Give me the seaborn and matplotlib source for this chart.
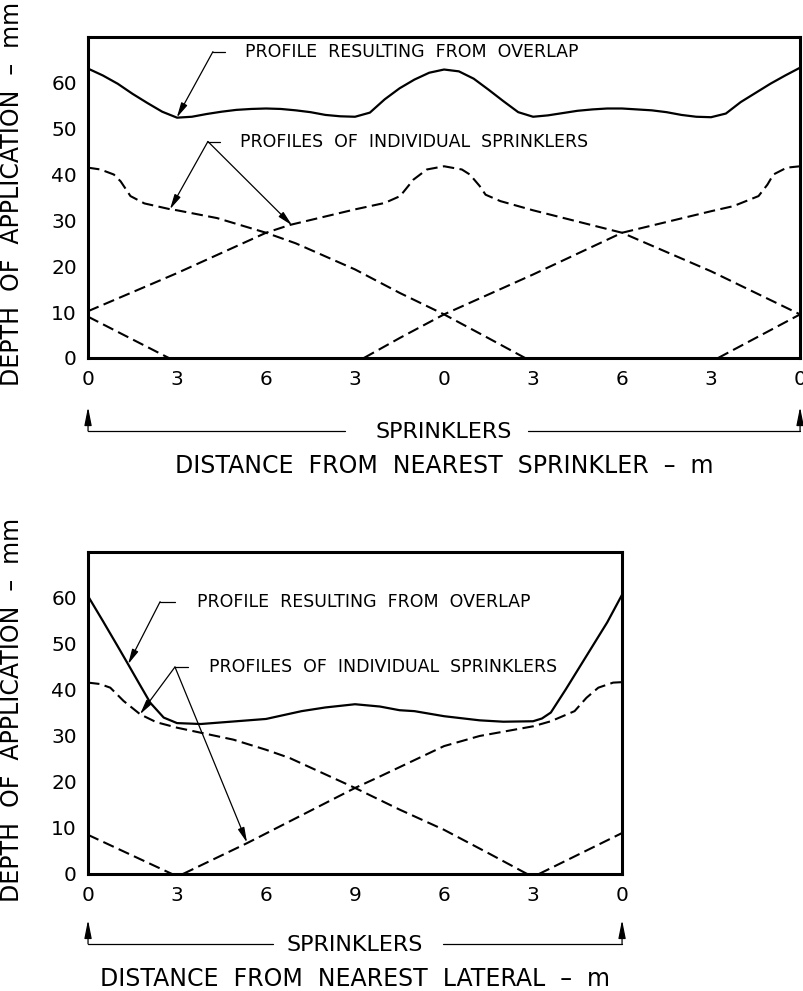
import matplotlib
matplotlib.use('Agg')
import matplotlib.pyplot as plt
import seaborn as sns

# ---- upper chart: along the lateral, sprinklers at 0, 12 and 24 m ----
top_ticks = [0, 3, 6, 9, 12, 15, 18, 21, 24]
top_tick_labels = ['0', '3', '6', '3', '0', '3', '6', '3', '0']

top_overlap_x = [0, 0.5, 1, 1.5, 2, 2.5, 3, 3.5, 4, 4.5, 5, 5.5, 6, 6.5, 7, 7.5, 8, 8.5, 9,
                 9.5, 10, 10.5, 11, 11.5, 12, 12.5, 13, 13.5, 14, 14.5, 15, 15.5, 16, 16.5,
                 17, 17.5, 18, 18.5, 19, 19.5, 20, 20.5, 21, 21.5, 22, 22.5, 23, 23.5, 24]
top_overlap = [63.1, 61.6, 59.8, 57.6, 55.6, 53.7, 52.4, 52.6, 53.2, 53.7, 54.1, 54.3, 54.4, 54.3,
               54.0, 53.6, 53.0, 52.7, 52.6, 53.5, 56.4, 58.8, 60.7, 62.2, 62.9, 62.5, 60.9,
               58.5, 56.0, 53.6, 52.6, 52.9, 53.4, 53.9, 54.2, 54.4, 54.4, 54.2, 54.0, 53.6,
               53.0, 52.6, 52.5, 53.3, 55.8, 57.8, 59.8, 61.6, 63.3]

# individual sprinkler profiles (one list per sprinkler position)
top_s_m12_x = [0, 2.72]
top_s_m12 = [9.0, 0]

top_s0_x = [0, 0.42, 0.87, 1.1, 1.43, 1.9, 2.72, 3, 4.35, 6, 7, 9, 10.5, 12, 13.5, 14.73]
top_s0 = [41.5, 41.1, 40.0, 38.5, 35.3, 33.7, 32.5, 32.2, 30.5, 27.3, 25.0, 19.3, 14.2, 9.5, 4.3, 0]

top_s12_x = [0, 3, 6, 6.8, 9, 10, 10.52, 10.97, 11.42, 12, 12.6, 12.87, 13.2, 13.4, 13.9,
             15, 18, 21, 24]
top_s12 = [10.2, 18.5, 27.3, 29.0, 32.4, 33.8, 35.3, 38.9, 41.1, 41.8, 41.1, 40.0, 37.5, 35.6,
           34.2, 32.2, 27.3, 18.9, 9.5]

top_s24_x = [9.3, 10.52, 12, 15, 18, 21, 21.75, 22.6, 22.9, 23.1, 23.55, 24]
top_s24 = [0, 4.4, 9.5, 18.2, 27.3, 32.0, 33.1, 35.3, 37.8, 40.0, 41.5, 41.8]

top_s36_x = [21.24, 24]
top_s36 = [0, 9.5]

# ---- lower chart: across laterals, laterals at 0 and 18 m ----
bot_ticks = [0, 3, 6, 9, 12, 15, 18]
bot_tick_labels = ['0', '3', '6', '9', '6', '3', '0']

bot_overlap_x = [0, 0.5, 1, 1.35, 1.75, 2.1, 2.55, 3, 3.8, 5, 6, 7.2, 8, 9, 9.84, 10.5, 11,
                 12, 13.2, 14, 15, 15.3, 15.6, 16.1, 16.8, 17.5, 18]
bot_overlap = [60.4, 55.0, 49.5, 45.6, 41.1, 37.2, 34.0, 32.8, 32.6, 33.2, 33.7, 35.4, 36.2,
               36.9, 36.4, 35.6, 35.4, 34.3, 33.4, 33.1, 33.2, 33.8, 35.1, 40.1, 47.4, 54.7, 60.7]

bot_s_m12_x = [0, 2.83]
bot_s_m12 = [8.5, 0]

bot_s0_x = [0, 0.4, 0.75, 1.2, 1.76, 2.3, 3, 4.9, 6, 6.8, 9, 10.5, 12, 13.5, 14.8]
bot_s0 = [41.6, 41.3, 40.5, 37.6, 34.7, 33.0, 31.8, 29.2, 27.0, 25.2, 18.7, 14.0, 9.6, 4.5, 0]

bot_s18_x = [3.2, 5.36, 9, 9.84, 12, 13.2, 15, 15.6, 16.4, 16.8, 17.2, 17.7, 18]
bot_s18 = [0, 6.7, 18.7, 21.2, 27.8, 30.0, 32.1, 33.2, 35.4, 38.3, 40.5, 41.6, 41.7]

bot_s30_x = [15.2, 18]
bot_s30 = [0, 8.9]

y_ticks = [0, 10, 20, 30, 40, 50, 60]

sns.set_style('white')
plt.rcParams['font.family'] = ['DejaVu Sans']
plt.rcParams['text.color'] = 'black'
plt.rcParams['axes.labelcolor'] = 'black'
plt.rcParams['xtick.color'] = 'black'
plt.rcParams['ytick.color'] = 'black'

fig = plt.figure(figsize=(8.04, 9.91), dpi=100)
ax1 = fig.add_axes([0.1095, 0.6388, 0.8856, 0.3239])
ax2 = fig.add_axes([0.1095, 0.1181, 0.6642, 0.3249])

dash = (0, (5.5, 2.6))
arrow_kw = dict(arrowstyle='-|>,head_length=0.9,head_width=0.2', color='black', lw=0.9,
                shrinkA=0, shrinkB=0, mutation_scale=10)


def style_axes(ax, xmax, ticks, labels, xlabel):
    ax.set_xlim(0, xmax)
    ax.set_ylim(0, 70)
    ax.set_xticks(ticks)
    ax.set_xticklabels(labels)
    ax.set_yticks(y_ticks)
    ax.tick_params(direction='in', length=11, width=1, labelsize=14.5, color='black',
                   labelcolor='black', top=False, right=False)
    ax.tick_params(axis='x', pad=9)
    ax.tick_params(axis='y', pad=8)
    for sp in ax.spines.values():
        sp.set_visible(True)
        sp.set_linewidth(2.2)
        sp.set_color('black')
    ax.set_ylabel('DEPTH  OF  APPLICATION  \u2013  mm', fontsize=17, color='black')
    ax.set_xlabel(xlabel, fontsize=17, va='top', color='black')


def bracket(ax, y_line, y_tip, gap_l, gap_r):
    tr = ax.transAxes
    ax.plot([0, gap_l], [y_line, y_line], transform=tr, color='black', lw=0.9, clip_on=False)
    ax.plot([gap_r, 1], [y_line, y_line], transform=tr, color='black', lw=0.9, clip_on=False)
    for xe in (0, 1):
        ax.annotate('', xy=(xe, y_tip), xytext=(xe, y_line), xycoords='axes fraction',
                    textcoords='axes fraction',
                    arrowprops=dict(arrowstyle='-|>,head_length=1.1,head_width=0.22',
                                    color='black', lw=0.9, shrinkA=0, shrinkB=0,
                                    mutation_scale=10))
    ax.text(0.5, y_line - 0.003, 'SPRINKLERS', transform=tr, ha='center', va='center',
            fontsize=16, color='black')


def leader(ax, text, x0, x1, y, tips):
    ax.plot([x0, x1], [y, y], color='black', lw=0.9)
    ax.text(x1 + 0.67 * (x1 - x0) + 0.4, y, text, ha='left', va='center', fontsize=12.5,
            color='black')
    for tx, ty in tips:
        ax.annotate('', xy=(tx, ty), xytext=(x0, y), arrowprops=arrow_kw)


# upper chart
sns.lineplot(x=top_overlap_x, y=top_overlap, ax=ax1, color='black', lw=1.6, sort=False)
for xs, ys in [(top_s_m12_x, top_s_m12), (top_s0_x, top_s0), (top_s12_x, top_s12),
               (top_s24_x, top_s24), (top_s36_x, top_s36)]:
    sns.lineplot(x=xs, y=ys, ax=ax1, color='black', lw=1.5, linestyle=dash, sort=False)
style_axes(ax1, 24, top_ticks, top_tick_labels, 'DISTANCE  FROM  NEAREST  SPRINKLER  \u2013  m')
ax1.yaxis.set_label_coords(-0.09, 0.51)
ax1.xaxis.set_label_coords(0.5, -0.30)
leader(ax1, 'PROFILE  RESULTING  FROM  OVERLAP', 4.21, 4.62, 66.8, [(2.99, 52.4)])
leader(ax1, 'PROFILES  OF  INDIVIDUAL  SPRINKLERS', 4.04, 4.45, 47.2,
       [(2.76, 32.4), (6.88, 28.9)])
bracket(ax1, -0.2274, -0.153, 0.361, 0.618)

# lower chart
sns.lineplot(x=bot_overlap_x, y=bot_overlap, ax=ax2, color='black', lw=1.6, sort=False)
for xs, ys in [(bot_s_m12_x, bot_s_m12), (bot_s0_x, bot_s0), (bot_s18_x, bot_s18),
               (bot_s30_x, bot_s30)]:
    sns.lineplot(x=xs, y=ys, ax=ax2, color='black', lw=1.5, linestyle=dash, sort=False)
style_axes(ax2, 18, bot_ticks, bot_tick_labels, 'DISTANCE  FROM  NEAREST  LATERAL  \u2013  m')
ax2.yaxis.set_label_coords(-0.12, 0.51)
ax2.xaxis.set_label_coords(0.5, -0.29)
leader(ax2, 'PROFILE  RESULTING  FROM  OVERLAP', 2.43, 2.93, 59.2, [(1.35, 45.6)])
leader(ax2, 'PROFILES  OF  INDIVIDUAL  SPRINKLERS', 2.93, 3.37, 45.0,
       [(1.75, 34.7), (5.36, 6.8)])
bracket(ax2, -0.217, -0.143, 0.346, 0.665)

fig.savefig('out.png', dpi=100, facecolor='white')
